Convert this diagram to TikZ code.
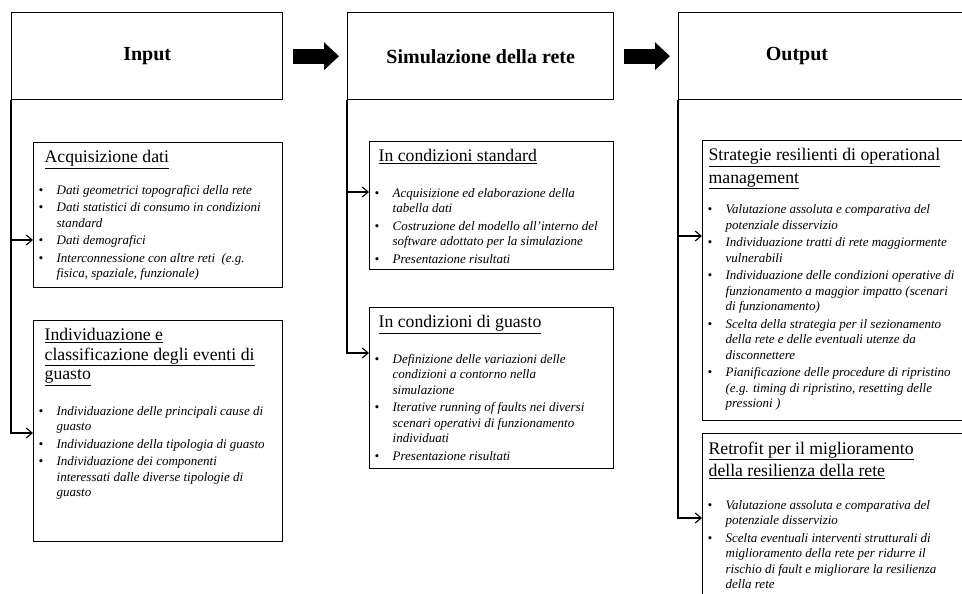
\documentclass[tikz,border=0pt]{standalone}
\usepackage{fontspec}
\setmainfont{Liberation Serif}
\usepackage{enumitem}
\usetikzlibrary{arrows.meta,positioning,calc}
\setlist[itemize]{label=\textbullet,leftmargin=18pt,labelwidth=10pt,labelsep=8pt,align=left,
  topsep=0pt,partopsep=0pt,itemsep=2pt,parsep=0pt}
\newcommand{\ptitle}[2][0pt]{{\fontsize{17.7}{19.5}\selectfont\upshape\leftskip=#1 #2\par}\vspace{20pt}}
\newcommand{\pbody}[3]{\parbox[t][#2][t]{#1}{\raggedright #3}}
\tikzset{
  head/.style={draw,line width=1.4pt,anchor=north west,minimum height=87pt,
    font=\fontsize{20}{22}\selectfont\bfseries},
  panel/.style={draw,line width=1.3pt,anchor=north west,inner xsep=5pt,inner ysep=8pt,
    font=\fontsize{13}{15.5}\selectfont\itshape},
  flow/.style={line width=15pt,-{Triangle[length=15pt,width=27pt]},shorten <=10pt,shorten >=8pt},
  feed/.style={line width=1.1pt,-{Straight Barb[length=6pt,width=10pt]}}
}
\begin{document}
\begin{tikzpicture}[x=1pt,y=-1pt]
  \useasboundingbox (0,0) rectangle (962,594);
  \fill[white] (0,0) rectangle (962,594);
  \clip (0,0) rectangle (962,594);
  % headers
  \node[head,minimum width=271pt] (in) at (11,12) {Input};
  \node[head,minimum width=266pt] (sim) at (347,12) {Simulazione della rete};
  \node[head,minimum width=330pt] (out) at (678,12) {};
  \node[font=\fontsize{20}{22}\selectfont\bfseries] (outlbl) at ($(out.north west)+(119,44)$) {Output};
  \draw[flow] (in) -- (sim);
  \draw[flow] (sim) -- (out);
  % input column
  \node[panel] (acq) at (33,142) {\pbody{239pt}{129pt}{%
    \ptitle[6pt]{\underline{Acquisizione dati}}\vspace{-4pt}
    \begin{itemize}
      \item Dati geometrici topografici della rete
      \item Dati statistici di consumo in condizioni\newline standard
      \item Dati demografici
      \item Interconnessione con altre reti~ (e.g.\newline fisica, spaziale, funzionale)
    \end{itemize}}};
  \node[panel] (ind) at (33,320) {\pbody{239pt}{205pt}{%
    \ptitle[6pt]{\underline{Individuazione e}\\\underline{classificazione degli eventi di}\\\underline{guasto}}
    \begin{itemize}
      \item Individuazione delle principali cause di\newline guasto
      \item Individuazione della tipologia di guasto
      \item Individuazione dei componenti\newline interessati dalle diverse tipologie di\newline guasto
    \end{itemize}}};
  % simulation column
  \node[panel] (std) at (369,141) {\pbody{234pt}{112pt}{%
    \ptitle[4pt]{\underline{In condizioni standard}}
    \begin{itemize}
      \item Acquisizione ed elaborazione della\newline tabella dati
      \item Costruzione del modello all'interno del\newline software adottato per la simulazione
      \item Presentazione risultati
    \end{itemize}}};
  \node[panel] (gua) at (369,307) {\pbody{234pt}{145pt}{%
    \ptitle[4pt]{\underline{In condizioni di guasto}}
    \begin{itemize}
      \item Definizione delle variazioni delle\newline condizioni a contorno nella\newline simulazione
      \item Iterative running of faults nei diversi\newline scenari operativi di funzionamento\newline individuati
      \item Presentazione risultati
    \end{itemize}}};
  % output column
  \node[panel] (str) at (702,140) {\pbody{290pt}{264pt}{%
    \ptitle[1pt]{\underline{Strategie resilienti di operational}\\[3pt]\underline{management}}\vspace{-5pt}
    \begin{itemize}
      \item Valutazione assoluta e comparativa del\newline potenziale disservizio
      \item Individuazione tratti di rete maggiormente\newline vulnerabili
      \item Individuazione delle condizioni operative di\newline funzionamento a maggior impatto (scenari\newline di funzionamento)
      \item Scelta della strategia per il sezionamento\newline della rete e delle eventuali utenze da\newline disconnettere
      \item Pianificazione delle procedure di ripristino\newline (e.g. timing di ripristino, resetting delle\newline pressioni )
    \end{itemize}}};
  \node[panel] (ret) at (702,433) {\pbody{290pt}{184pt}{%
    \ptitle[1pt]{\underline{Retrofit per il miglioramento}\\[3pt]\underline{della resilienza della rete}}\vspace{-3pt}
    \begin{itemize}
      \item Valutazione assoluta e comparativa del\newline potenziale disservizio
      \item Scelta eventuali interventi strutturali di\newline miglioramento della rete per ridurre il\newline rischio di fault e migliorare la resilienza\newline della rete
    \end{itemize}}};
  % feeds
  \draw[feed] (in.south west) |- ([yshift=-98pt]acq.north west);
  \draw[feed] (in.south west) |- ([yshift=-113pt]ind.north west);
  \draw[feed] (sim.south west) |- ([yshift=-51pt]std.north west);
  \draw[feed] (sim.south west) |- ([yshift=-46pt]gua.north west);
  \draw[feed] (out.south west) |- ([yshift=-96pt]str.north west);
  \draw[feed] (out.south west) |- ([yshift=-85pt]ret.north west);
\end{tikzpicture}
\end{document}
